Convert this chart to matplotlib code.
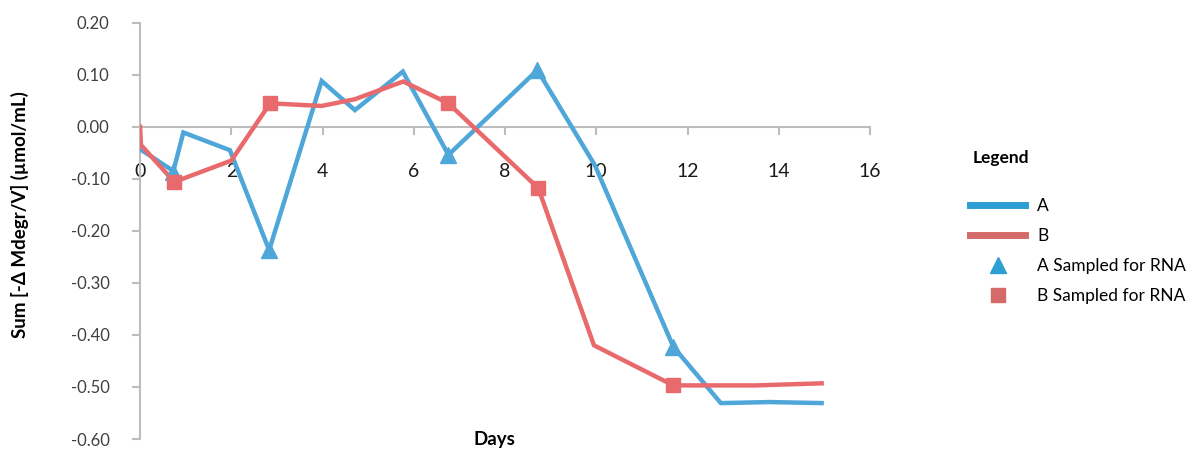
import matplotlib.pyplot as plt
from matplotlib.lines import Line2D

# series A (blue)
a_days = [0.0, 0.73, 0.95, 1.97, 2.83, 3.98, 4.71, 5.76, 6.76, 8.71, 9.97, 11.69, 12.73, 13.8, 14.94]
a_vals = [-0.043, -0.085, -0.011, -0.045, -0.237, 0.088, 0.032, 0.106, -0.054, 0.109, -0.074, -0.423, -0.531, -0.529, -0.531]
# series B (red)
b_days = [0.0, 0.02, 0.75, 2.0, 2.85, 3.98, 4.71, 5.77, 6.76, 8.73, 9.95, 11.69, 13.5, 14.94]
b_vals = [0.0, -0.035, -0.106, -0.065, 0.045, 0.040, 0.053, 0.087, 0.045, -0.118, -0.42, -0.497, -0.497, -0.493]

# sampling days (markers)
a_rna_days = [0.73, 2.83, 6.76, 8.71, 11.69]
a_rna_vals = [-0.087, -0.237, -0.054, 0.109, -0.423]
b_rna_days = [0.75, 2.85, 6.76, 8.73, 11.69]
b_rna_vals = [-0.106, 0.045, 0.045, -0.118, -0.497]

x_ticks = [0, 2, 4, 6, 8, 10, 12, 14, 16]
y_ticks = [0.20, 0.10, 0.00, -0.10, -0.20, -0.30, -0.40, -0.50, -0.60]

BLUE = "#4fa6d8"
RED = "#e96a6c"
LEG_BLUE = "#2e9fd2"
LEG_RED = "#d56a6b"

plt.rcParams["font.family"] = ["Lato", "DejaVu Sans"]

fig = plt.figure(figsize=(11.99, 4.51), dpi=100)
ax = fig.add_axes([0.1168, 0.0266, 0.6088, 0.9231])

ax.plot(a_days, a_vals, color=BLUE, lw=3.2, solid_joinstyle="miter", zorder=3)
ax.plot(b_days, b_vals, color=RED, lw=3.2, solid_joinstyle="miter", zorder=3)
ax.plot(a_rna_days, a_rna_vals, ls="none", marker="^", ms=11, color=BLUE, zorder=4)
ax.plot(b_rna_days, b_rna_vals, ls="none", marker="s", ms=10, color=RED, zorder=5)

ax.set_xlim(0, 16)
ax.set_ylim(-0.60, 0.20)
ax.set_xticks(x_ticks)
ax.set_yticks(y_ticks)
ax.set_yticklabels([f"{v:.2f}" for v in y_ticks])

for side in ["top", "right"]:
    ax.spines[side].set_visible(False)
ax.spines["bottom"].set_position(("data", 0))
ax.spines["bottom"].set_color("#bdbdbd")
ax.spines["left"].set_color("#bdbdbd")
ax.spines["bottom"].set_linewidth(1.5)
ax.spines["left"].set_linewidth(1.5)

ax.tick_params(axis="x", direction="out", length=6, width=1.5, color="#bdbdbd",
               pad=20, labelsize=14, labelcolor="#1a1a1a")
ax.tick_params(axis="y", direction="out", length=6, width=1.5, color="#bdbdbd",
               pad=16, labelsize=12, labelcolor="#404040")

fig.text(0.017, 0.525, "Sum [-Δ Mdegr/V] (µmol/mL)", rotation=90, ha="center", va="center",
         fontsize=13.5, fontweight="bold")
fig.text(0.412, 0.025, "Days", ha="center", va="center", fontsize=13.5, fontweight="bold")

handles = [
    Line2D([], [], color=LEG_BLUE, lw=5),
    Line2D([], [], color=LEG_RED, lw=5),
    Line2D([], [], ls="none", marker="^", ms=11, color=LEG_BLUE),
    Line2D([], [], ls="none", marker="s", ms=10, color=LEG_RED),
]
labels = ["A", "B", "A Sampled for RNA", "B Sampled for RNA"]
fig.text(0.8115, 0.65, "Legend", ha="left", va="center", fontsize=12.5, fontweight="bold")
leg = fig.legend(handles, labels, loc="upper left", bbox_to_anchor=(0.803, 0.576),
                 frameon=False, handlelength=3.2, fontsize=12.5,
                 labelspacing=0.8, handletextpad=0.7, borderaxespad=0)
leg._legend_box.align = "left"

fig.savefig("out.png", dpi=100)
